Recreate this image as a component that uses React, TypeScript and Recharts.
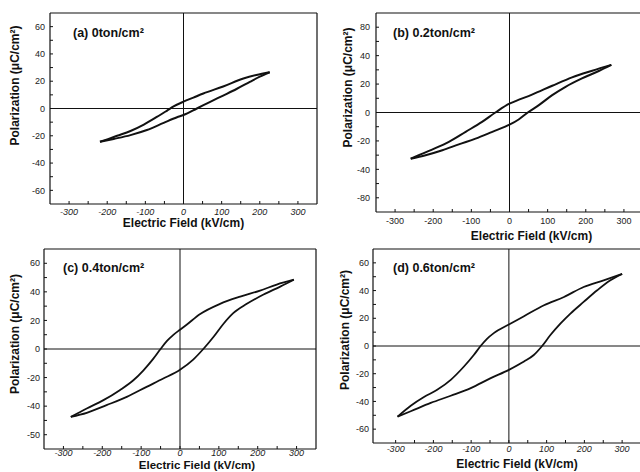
import { Line, LineChart, ReferenceLine, XAxis, YAxis } from 'recharts'

const FONT = '"Liberation Sans", Arial, Helvetica, sans-serif'
const INK = '#111'

// ticks shared by the four panels (labels only on the major ones)
const xTicks = [-300, -250, -200, -150, -100, -50, 0, 50, 100, 150, 200, 250, 300]
const xTickLabels = ['-300', '', '-200', '', '-100', '', '0', '', '100', '', '200', '', '300']
const yTicks = [-60, -50, -40, -30, -20, -10, 0, 10, 20, 30, 40, 50, 60]
// as printed in the scan
const yLabelsA = ['-60', '', '-40', '', '-20', '', '0', '', '20', '', '40', '', '60']
const yLabelsB = ['-80', '', '-40', '', '-20', '', '0', '', '20', '', '40', '', '80']
const yLabelsC = ['-50', '', '-40', '', '-20', '', '0', '', '20', '', '40', '', '60']
const yLabelsD = ['-60', '', '-40', '', '-20', '', '0', '', '20', '', '40', '', '60']

// (a) 0 ton/cm2 : upper = decreasing-field branch, lower = increasing-field branch
const aUpperE = [-219, -200, -174, -139, -104, -70, -43, -26, 0, 26, 52, 104, 157, 191, 226]
const aUpperP = [-24.4, -22.6, -20, -16.5, -11.8, -6.2, -1.5, 1.5, 5, 8, 11, 16.1, 22, 24.6, 26.6]
const aLowerE = [-219, -183, -139, -96, -52, -17, 0, 35, 70, 104, 139, 174, 200, 226]
const aLowerP = [-24.4, -22.3, -19.5, -15.8, -10.5, -6.4, -4.8, 0, 4.9, 9.5, 14.3, 19.5, 23.3, 26.6]

// (b) 0.2 ton/cm2
const bUpperE = [-259, -238, -203, -159, -115, -72, -37, 0, 16, 59, 112, 164, 217, 267]
const bUpperP = [-32.5, -30.1, -26.1, -20.7, -13.6, -6.6, 0, 6.2, 8, 12.6, 18.8, 24.7, 29.4, 33.5]
const bLowerE = [-259, -220, -176, -133, -89, -45, 0, 24, 48, 77, 112, 147, 190, 234, 267]
const bLowerP = [-32.5, -30.1, -26.6, -22.4, -18.4, -13.6, -8.6, -4.9, 0, 5.2, 12.2, 18.1, 24, 29.2, 33.5]

// (c) 0.4 ton/cm2
const cUpperE = [-281, -240, -197, -155, -120, -94, -69, -50, -34, -17, 0, 17, 52, 103, 155, 206, 249, 293]
const cUpperP = [-47.5, -41.6, -35.8, -28.8, -21.9, -14.9, -6.9, 0, 5.5, 9.9, 13.5, 17, 24.5, 31.6, 36.7, 40.9, 45.1, 48.5]
const cLowerE = [-281, -240, -189, -137, -86, -43, 0, 34, 60, 86, 112, 137, 172, 215, 258, 293]
const cLowerP = [-47.5, -44.7, -39.3, -33.5, -26.5, -20.7, -14.5, -7.4, 0, 8.4, 17.7, 25.1, 31.6, 38.1, 43.7, 48.5]

// (d) 0.6 ton/cm2
const dUpperE = [-295, -260, -225, -190, -154, -119, -93, -75, -58, -40, 0, 40, 93, 146, 198, 251, 300]
const dUpperP = [-51, -43.1, -36.8, -31.6, -24.4, -14.8, -6.5, 0, 5.2, 9.3, 15.5, 21.5, 29.4, 35.4, 42.6, 47.4, 52]
const dLowerE = [-295, -260, -207, -154, -101, -48, 0, 40, 66, 88, 110, 137, 163, 198, 234, 269, 300]
const dLowerP = [-51, -47.1, -41.1, -35.9, -30.4, -23.2, -17.2, -11.2, -6.5, 0, 7.9, 16.3, 23.4, 31.8, 40.2, 47.4, 52]

const pts = (e: number[], p: number[]) => e.map((x, i) => ({ e: x, p: p[i] }))

type PanelProps = {
  left: number
  top: number
  width: number
  height: number
  marginTop: number
  marginRight: number
  yAxisWidth: number
  xAxisHeight: number
  xDomain: [number, number]
  yLabels: string[]
  italicX: boolean
  xTickMargin: number
  yTickMargin: number
  yTitleOffset: number
  yTitleDy: number
  xTitleOffset: number
  xTitleDx: number
  xTitleSize: number
  upper: { e: number; p: number }[]
  lower: { e: number; p: number }[]
  strokeWidth: number
}

function LoopPanel(props: PanelProps) {
  const {
    left, top, width, height, marginTop, marginRight, yAxisWidth, xAxisHeight, xDomain, yLabels, italicX,
    xTickMargin, yTickMargin, yTitleOffset, yTitleDy, xTitleOffset, xTitleDx, xTitleSize, upper, lower, strokeWidth,
  } = props
  return (
    <div style={{ position: 'absolute', left, top }}>
      <LineChart width={width} height={height} margin={{ top: marginTop, right: marginRight, bottom: 0, left: 0 }}>
        <XAxis
          dataKey="e"
          type="number"
          domain={xDomain}
          allowDataOverflow
          ticks={xTicks}
          interval={0}
          tickFormatter={(v) => xTickLabels[xTicks.indexOf(Number(v))] ?? ''}
          tick={{ fontSize: 9, fill: '#222', fontFamily: FONT, fontStyle: italicX ? 'italic' : 'normal' }}
          tickSize={-3}
          tickMargin={xTickMargin}
          height={xAxisHeight}
          axisLine={{ stroke: INK, strokeWidth: 1.2 }}
          tickLine={{ stroke: INK }}
          label={{
            value: 'Electric Field (kV/cm)',
            position: 'insideBottom',
            offset: xTitleOffset,
            dx: xTitleDx,
            style: { fontSize: xTitleSize, fontWeight: 'bold', fill: INK, fontFamily: FONT },
          }}
        />
        <YAxis
          type="number"
          domain={[-70, 70]}
          allowDataOverflow
          ticks={yTicks}
          interval={0}
          tickFormatter={(v) => yLabels[yTicks.indexOf(Number(v))] ?? ''}
          tick={{ fontSize: 9, fill: '#222', fontFamily: FONT }}
          tickSize={-3}
          tickMargin={yTickMargin}
          width={yAxisWidth}
          axisLine={{ stroke: INK, strokeWidth: 1.2 }}
          tickLine={{ stroke: INK }}
          label={{
            value: 'Polarization (μC/cm²)',
            angle: -90,
            position: 'insideLeft',
            offset: yTitleOffset,
            dy: yTitleDy,
            style: { fontSize: 12, fontWeight: 'bold', fill: INK, fontFamily: FONT, textAnchor: 'middle' },
          }}
        />
        {/* frame: top and right edges of the plot box */}
        <ReferenceLine y={70} stroke={INK} strokeWidth={1.2} />
        <ReferenceLine x={xDomain[1]} stroke={INK} strokeWidth={1.2} />
        <ReferenceLine x={0} stroke={INK} strokeWidth={1} />
        <ReferenceLine y={0} stroke={INK} strokeWidth={1} />
        <Line data={upper} dataKey="p" type="monotone" stroke={INK} strokeWidth={strokeWidth} dot={false} isAnimationActive={false} />
        <Line data={lower} dataKey="p" type="monotone" stroke={INK} strokeWidth={strokeWidth} dot={false} isAnimationActive={false} />
      </LineChart>
    </div>
  )
}

const titleStyle = { position: 'absolute' as const, fontSize: 12.5, fontWeight: 'bold' as const, color: INK, lineHeight: '14px', whiteSpace: 'nowrap' as const }

export default function App() {
  return (
    <div style={{ position: 'fixed', left: 0, top: 0, width: 640, height: 472, overflow: 'hidden', background: '#fff', fontFamily: FONT }}>
      <LoopPanel
        left={0} top={0} width={320} height={236} marginTop={13} marginRight={3} yAxisWidth={50} xAxisHeight={32}
        xDomain={[-350, 350]} yLabels={yLabelsA} italicX xTickMargin={8} yTickMargin={8}
        yTitleOffset={15} yTitleDy={-23} xTitleOffset={9} xTitleDx={0} xTitleSize={12}
        upper={pts(aUpperE, aUpperP)} lower={pts(aLowerE, aLowerP)} strokeWidth={2}
      />
      <LoopPanel
        left={320} top={0} width={340} height={248} marginTop={13} marginRight={17} yAxisWidth={56} xAxisHeight={36}
        xDomain={[-350, 350]} yLabels={yLabelsB} italicX={false} xTickMargin={9} yTickMargin={9}
        yTitleOffset={28} yTitleDy={-25} xTitleOffset={8} xTitleDx={22} xTitleSize={12}
        upper={pts(bUpperE, bUpperP)} lower={pts(bLowerE, bLowerP)} strokeWidth={2}
      />
      <LoopPanel
        left={0} top={236} width={320} height={236} marginTop={13} marginRight={4} yAxisWidth={44} xAxisHeight={23}
        xDomain={[-350, 350]} yLabels={yLabelsC} italicX xTickMargin={4} yTickMargin={7}
        yTitleOffset={15} yTitleDy={-15} xTitleOffset={3} xTitleDx={17} xTitleSize={11.5}
        upper={pts(cUpperE, cUpperP)} lower={pts(cLowerE, cLowerP)} strokeWidth={1.8}
      />
      <LoopPanel
        left={320} top={236} width={330} height={236} marginTop={13} marginRight={9} yAxisWidth={53} xAxisHeight={29}
        xDomain={[-360, 350]} yLabels={yLabelsD} italicX xTickMargin={6} yTickMargin={7}
        yTitleOffset={25} yTitleDy={-16} xTitleOffset={4} xTitleDx={10} xTitleSize={12}
        upper={pts(dUpperE, dUpperP)} lower={pts(dLowerE, dLowerP)} strokeWidth={1.8}
      />
      <div style={{ ...titleStyle, left: 73, top: 26 }}>(a) 0ton/cm²</div>
      <div style={{ ...titleStyle, left: 393, top: 26 }}>(b) 0.2ton/cm²</div>
      <div style={{ ...titleStyle, left: 63, top: 261 }}>(c) 0.4ton/cm²</div>
      <div style={{ ...titleStyle, left: 393, top: 261 }}>(d) 0.6ton/cm²</div>
    </div>
  )
}
